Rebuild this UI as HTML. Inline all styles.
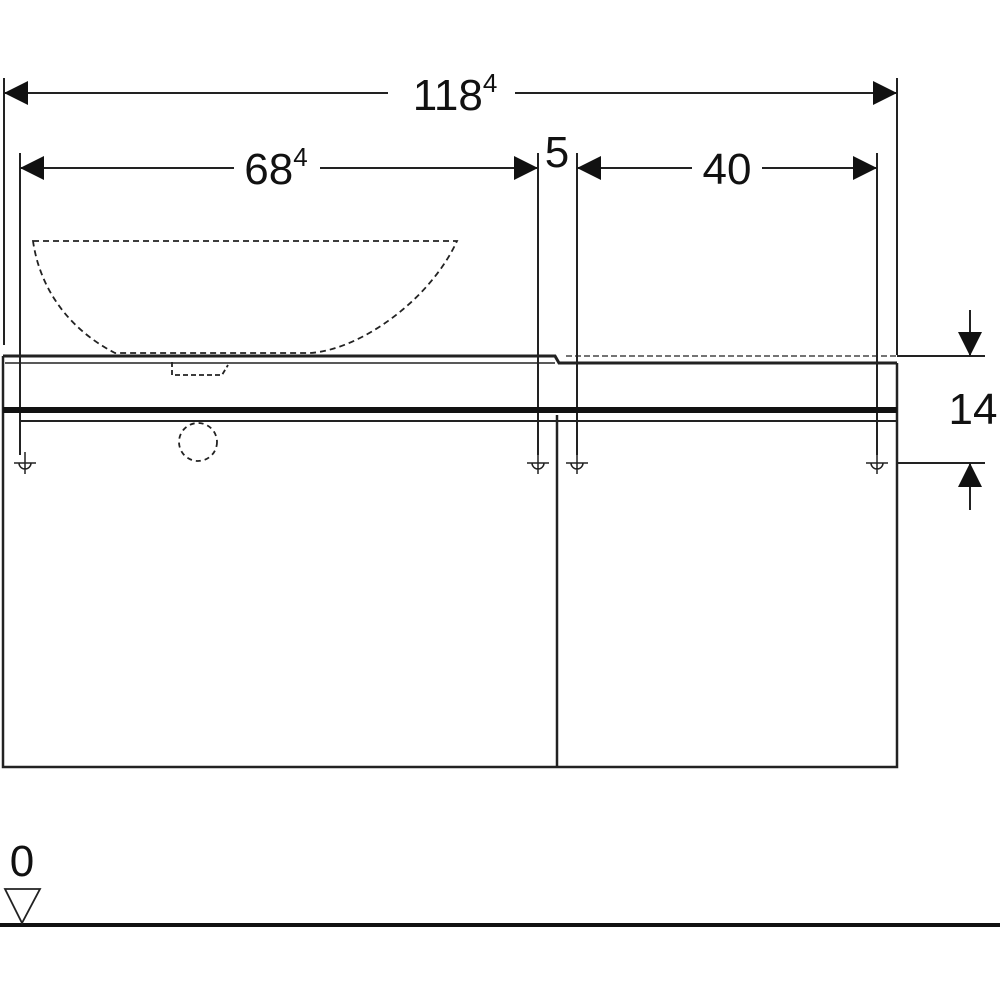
<!DOCTYPE html>
<html><head><style>body{margin:0;background:#fff}svg{display:block}text{font-family:"Liberation Sans",sans-serif;fill:#111}</style></head>
<body>
<svg width="1000" height="1000" viewBox="0 0 1000 1000" xmlns="http://www.w3.org/2000/svg">
<defs>
<marker id="a" viewBox="0 0 10 10" refX="10" refY="5" markerWidth="24" markerHeight="24" markerUnits="userSpaceOnUse" orient="auto-start-reverse"><path d="M0,0L10,5L0,10z" fill="#111"/></marker>
</defs>
<g stroke="#222" stroke-width="2" fill="none">
<!-- extension lines -->
<line x1="4" y1="78" x2="4" y2="345"/>
<line x1="897" y1="78" x2="897" y2="355"/>
<line x1="20" y1="153" x2="20" y2="455"/>
<line x1="538" y1="153" x2="538" y2="455"/>
<line x1="577" y1="153" x2="577" y2="455"/>
<line x1="877" y1="153" x2="877" y2="455"/>
<!-- dims -->
<line x1="4" y1="93" x2="388" y2="93" marker-start="url(#a)"/>
<line x1="515" y1="93" x2="897" y2="93" marker-end="url(#a)"/>
<line x1="20" y1="168" x2="234" y2="168" marker-start="url(#a)"/>
<line x1="320" y1="168" x2="538" y2="168" marker-end="url(#a)"/>
<line x1="577" y1="168" x2="692" y2="168" marker-start="url(#a)"/>
<line x1="762" y1="168" x2="877" y2="168" marker-end="url(#a)"/>
<!-- right dim -->
<line x1="897" y1="356" x2="985" y2="356"/>
<line x1="897" y1="463" x2="985" y2="463"/>
<line x1="970" y1="310" x2="970" y2="356" marker-end="url(#a)"/>
<line x1="970" y1="510" x2="970" y2="463" marker-end="url(#a)"/>
<!-- cabinet -->
<path d="M3,356 L3,767 L897,767 L897,363" stroke-width="2.5"/>
<path d="M3,356 L555,356 L559,363 L897,363" stroke-width="3"/>
<line x1="5" y1="363" x2="555" y2="363" stroke-width="1.5"/>
<line x1="566" y1="356" x2="897" y2="356" stroke-width="1.2" stroke-dasharray="6 3"/>
<line x1="3" y1="410" x2="897" y2="410" stroke-width="6" stroke="#111"/>
<line x1="20" y1="421" x2="897" y2="421" stroke-width="2"/>
<line x1="557" y1="415" x2="557" y2="767" stroke-width="2.5"/>
<!-- basin -->
<path d="M33,241 L457,241 C430,300 360,350 310,353 L115,353 C70,330 40,290 33,241 Z" stroke-width="1.8" stroke-dasharray="6 4"/>
<path d="M172,362 L172,375 L222,375 L228,365" stroke-width="1.8" stroke-dasharray="5 3"/>
<circle cx="198" cy="442" r="19" stroke-width="1.8" stroke-dasharray="5 4"/>
<!-- crosses -->
<g stroke-width="1.5">
<path d="M25,452 V474 M14,463 H36 M19,463 A6,6 0 0 0 31,463"/>
<path d="M538,452 V474 M527,463 H549 M532,463 A6,6 0 0 0 544,463"/>
<path d="M577,452 V474 M566,463 H588 M571,463 A6,6 0 0 0 583,463"/>
<path d="M877,452 V474 M866,463 H888 M871,463 A6,6 0 0 0 883,463"/>
</g>
<!-- floor -->
<line x1="0" y1="925" x2="1000" y2="925" stroke-width="4" stroke="#111"/>
<path d="M5,889 L40,889 L22,923 Z" stroke-width="1.8"/>
</g>
<text x="455" y="110" font-size="44" text-anchor="middle">118<tspan font-size="26" dy="-18">4</tspan></text>
<text x="276" y="184" font-size="44" text-anchor="middle">68<tspan font-size="26" dy="-18">4</tspan></text>
<text x="557" y="167" font-size="44" text-anchor="middle">5</text>
<text x="727" y="184" font-size="44" text-anchor="middle">40</text>
<text x="973" y="424" font-size="44" text-anchor="middle">14</text>
<text x="22" y="876" font-size="44" text-anchor="middle">0</text>
</svg>
</body></html>
